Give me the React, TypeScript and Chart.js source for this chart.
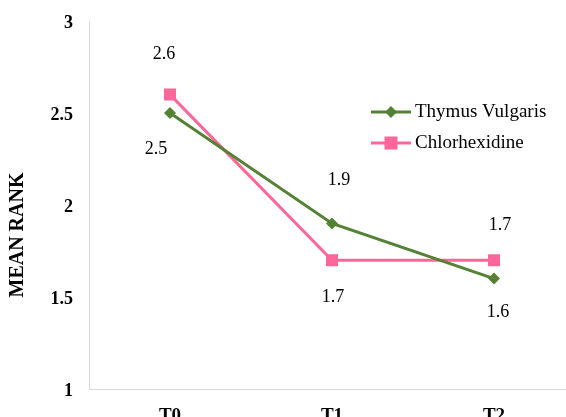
import { useEffect, useRef } from "react";
import { Chart, registerables } from "chart.js";

Chart.register(...registerables);

// ---- data ----
const categories = ["T0", "T1", "T2"];
const seriesNames = ["Thymus Vulgaris", "Chlorhexidine"];
const thymusValues = [2.5, 1.9, 1.6];
const chlorhexidineValues = [2.6, 1.7, 1.7];
const yTicks = [1, 1.5, 2, 2.5, 3];
const yAxisTitle = "MEAN RANK";

// ---- style ----
const GREEN = "#548235";
const PINK = "#FF6699";
const AXIS_GREY = "#D9D9D9";
const SERIF = "'Liberation Serif', 'Times New Roman', Times, serif";
// data label offsets [dx, dy] per series / point (styling)
const labelOffsets = [
  [[-14, 36], [7, -43], [4, 34]],
  [[-6, -40], [1, 37], [6, -35]],
];

const dataLabelPlugin = {
  id: "dataLabels",
  afterDatasetsDraw(chart: any) {
    const ctx = chart.ctx;
    ctx.save();
    ctx.font = `18px ${SERIF}`;
    ctx.fillStyle = "#000";
    ctx.textAlign = "center";
    ctx.textBaseline = "middle";
    chart.data.datasets.forEach((ds: any, di: number) => {
      const meta = chart.getDatasetMeta(di);
      meta.data.forEach((pt: any, i: number) => {
        const [dx, dy] = labelOffsets[di][i];
        ctx.fillText(Number(ds.data[i]).toFixed(1), pt.x + dx, pt.y + dy);
      });
    });
    ctx.restore();
  },
};

const customLegendPlugin = {
  id: "customLegend",
  afterDraw(chart: any) {
    const ctx = chart.ctx;
    ctx.save();
    const x0 = 371;
    const x1 = 411;
    const xm = (x0 + x1) / 2;
    chart.data.datasets.forEach((ds: any, di: number) => {
      const y = 112 + di * 31;
      ctx.strokeStyle = ds.borderColor;
      ctx.lineWidth = 3;
      ctx.beginPath();
      ctx.moveTo(x0, y);
      ctx.lineTo(x1, y);
      ctx.stroke();
      ctx.fillStyle = ds.borderColor;
      ctx.beginPath();
      if (ds.pointStyle === "rectRot") {
        const r = 6;
        ctx.moveTo(xm, y - r);
        ctx.lineTo(xm + r, y);
        ctx.lineTo(xm, y + r);
        ctx.lineTo(xm - r, y);
        ctx.closePath();
      } else {
        ctx.rect(xm - 6.5, y - 6.5, 13, 13);
      }
      ctx.fill();
      ctx.fillStyle = "#000";
      ctx.font = `19px ${SERIF}`;
      ctx.textAlign = "left";
      ctx.textBaseline = "middle";
      ctx.fillText(ds.label, 415, y);
    });
    ctx.restore();
  },
};

const axisTitlePlugin = {
  id: "axisTitle",
  afterDraw(chart: any) {
    const ctx = chart.ctx;
    ctx.save();
    ctx.translate(18, 235);
    ctx.rotate(-Math.PI / 2);
    ctx.font = `bold 20px ${SERIF}`;
    ctx.fillStyle = "#000";
    ctx.textAlign = "center";
    ctx.textBaseline = "middle";
    ctx.fillText(yAxisTitle, 0, 0);
    ctx.restore();
  },
};

export default function App() {
  const canvasRef = useRef<HTMLCanvasElement | null>(null);

  useEffect(() => {
    let chart: any = null;
    let cancelled = false;
    const build = () => {
      if (cancelled || !canvasRef.current) return;
      chart = new Chart(canvasRef.current, {
        type: "line",
        data: {
          labels: categories,
          datasets: [
            {
              label: seriesNames[0],
              data: thymusValues,
              borderColor: GREEN,
              backgroundColor: GREEN,
              borderWidth: 3,
              pointStyle: "rectRot",
              pointRadius: 6,
              pointHoverRadius: 6,
              pointBorderWidth: 0,
              tension: 0,
            },
            {
              label: seriesNames[1],
              data: chlorhexidineValues,
              borderColor: PINK,
              backgroundColor: PINK,
              borderWidth: 3,
              pointStyle: "rect",
              pointRadius: 8.5,
              pointHoverRadius: 8.5,
              pointBorderWidth: 0,
              tension: 0,
            },
          ],
        },
        options: {
          animation: false,
          responsive: false,
          devicePixelRatio: 1,
          layout: { autoPadding: false, padding: { top: 21, left: 0, right: 25, bottom: 0 } },
          plugins: {
            legend: { display: false },
            tooltip: { enabled: false },
          },
          scales: {
            x: {
              offset: true,
              grid: { display: false, drawTicks: false, offset: true },
              border: { display: true, color: AXIS_GREY, width: 1 },
              ticks: {
                color: "#000",
                padding: 16,
                font: { family: SERIF, size: 19, weight: "bold" },
              },
              afterFit: (scale: any) => {
                scale.height = 51;
                scale.paddingLeft = 0;
                scale.paddingRight = 0;
              },
            },
            y: {
              min: 1,
              max: 3,
              afterBuildTicks: (scale: any) => {
                scale.ticks = yTicks.map((v) => ({ value: v }));
              },
              grid: { display: false, drawTicks: false },
              border: { display: true, color: AXIS_GREY, width: 1 },
              ticks: {
                color: "#000",
                padding: 16,
                labelOffset: 2,
                font: { family: SERIF, size: 18, weight: "bold" },
                callback: (v: any) => String(Number(v)),
              },
              afterFit: (scale: any) => {
                scale.width = 89;
                scale.paddingTop = 0;
                scale.paddingBottom = 0;
              },
            },
          },
        },
        plugins: [dataLabelPlugin, customLegendPlugin, axisTitlePlugin],
      } as any);
    };
    const fonts: any = (document as any).fonts;
    if (fonts && fonts.load) {
      Promise.all([
        fonts.load("18px 'Liberation Serif'"),
        fonts.load("bold 18px 'Liberation Serif'"),
      ])
        .catch(() => null)
        .then(build);
    } else {
      build();
    }
    return () => {
      cancelled = true;
      if (chart) chart.destroy();
    };
  }, []);

  return (
    <div
      style={{
        position: "fixed",
        left: 0,
        top: 0,
        width: 566,
        height: 417,
        overflow: "hidden",
        background: "#fff",
      }}
    >
      <canvas ref={canvasRef} width={600} height={440} style={{ display: "block" }} />
    </div>
  );
}
